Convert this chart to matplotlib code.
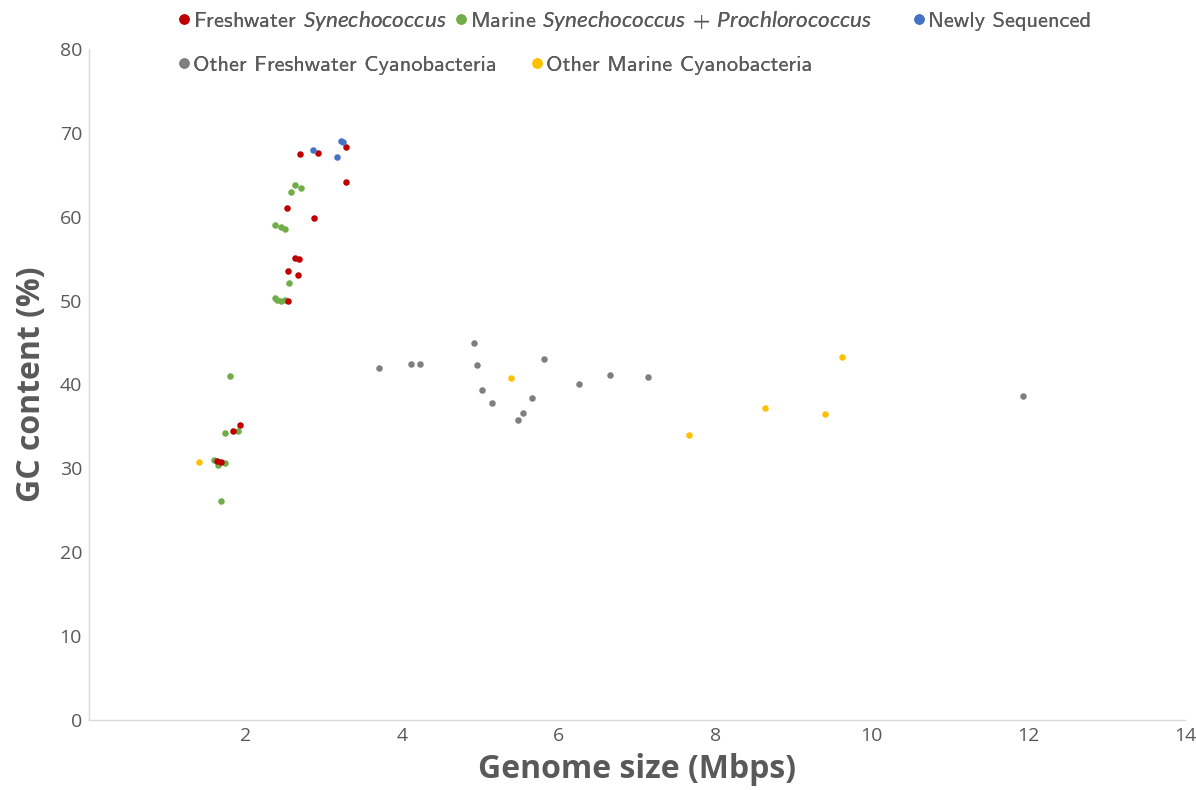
import matplotlib
matplotlib.use("Agg")
import matplotlib.pyplot as plt
from matplotlib.lines import Line2D

plt.rcParams['mathtext.fontset'] = 'custom'
plt.rcParams['mathtext.rm'] = 'cmss10'
plt.rcParams['mathtext.it'] = 'Lato:italic'
plt.rcParams['font.family'] = ['cmss10', 'DejaVu Sans']
plt.rcParams['axes.unicode_minus'] = False

# ---- data ----
fresh_syn_x = [3.28, 2.69, 2.92, 3.28, 2.53, 2.87, 2.63, 2.68, 2.54, 2.67, 2.54, 1.93, 1.84, 1.64, 1.69]
fresh_syn_y = [68.3, 67.5, 67.6, 64.1, 61.0, 59.9, 55.1, 55.0, 53.5, 53.1, 49.9, 35.2, 34.4, 30.9, 30.8]

marine_x = [2.63, 2.71, 2.58, 2.38, 2.45, 2.51, 2.55, 2.37, 2.40, 2.45, 2.51, 1.80, 1.90, 1.74, 1.60, 1.74, 1.65, 1.69]
marine_y = [63.8, 63.4, 63.0, 59.0, 58.8, 58.5, 52.1, 50.3, 50.1, 49.95, 50.1, 41.0, 34.4, 34.2, 31.0, 30.7, 30.4, 26.1]

new_x = [3.22, 3.25, 2.86, 3.17]
new_y = [69.0, 68.9, 67.9, 67.1]

other_fresh_x = [3.71, 4.11, 4.23, 4.92, 4.95, 5.02, 5.15, 5.48, 5.54, 5.66, 5.81, 6.26, 6.65, 7.14, 11.93]
other_fresh_y = [42.0, 42.5, 42.5, 44.9, 42.3, 39.3, 37.8, 35.8, 36.6, 38.4, 43.0, 40.0, 41.1, 40.9, 38.6]

other_marine_x = [1.40, 5.39, 7.66, 8.64, 9.40, 9.62]
other_marine_y = [30.8, 40.8, 34.0, 37.2, 36.5, 43.3]

x_ticks = [2, 4, 6, 8, 10, 12, 14]
y_ticks = [0, 10, 20, 30, 40, 50, 60, 70, 80]

C_RED = '#C00000'
C_GREEN = '#70AD47'
C_BLUE = '#4472C4'
C_GRAY = '#7F7F7F'
C_YELLOW = '#FFC000'
TXT = '#595959'

W, H = 1196, 790
fig = plt.figure(figsize=(W/100, H/100), dpi=100)
ax = fig.add_axes([89/W, 1-720/H, (1185-89)/W, (720-49)/H])

s = 22
ax.scatter(other_fresh_x, other_fresh_y, s=s, color=C_GRAY, linewidths=0, zorder=3)
ax.scatter(other_marine_x, other_marine_y, s=s, color=C_YELLOW, linewidths=0, zorder=3)
ax.scatter(marine_x, marine_y, s=s, color=C_GREEN, linewidths=0, zorder=4)
ax.scatter(fresh_syn_x, fresh_syn_y, s=s, color=C_RED, linewidths=0, zorder=5)
ax.scatter(new_x, new_y, s=s, color=C_BLUE, linewidths=0, zorder=6)

ax.set_xlim(0, 14)
ax.set_ylim(0, 80)
ax.set_xticks(x_ticks)
ax.set_yticks(y_ticks)
ax.tick_params(length=0, labelsize=14, colors=TXT)
ax.tick_params(axis='x', pad=5)
ax.tick_params(axis='y', pad=5)
for lab in ax.get_xticklabels() + ax.get_yticklabels():
    lab.set_fontfamily('Open Sans')
for sp in ['top', 'right']:
    ax.spines[sp].set_visible(False)
for sp in ['left', 'bottom']:
    ax.spines[sp].set_color('#D9D9D9')
    ax.spines[sp].set_linewidth(1.0)

ax.set_xlabel('Genome size (Mbps)', fontsize=23, fontweight='bold', color=TXT,
              fontfamily='Open Sans', labelpad=6)
ax.set_ylabel('GC content (%)', fontsize=23, fontweight='bold', color=TXT,
              fontfamily='Open Sans', labelpad=8)

def h(c):
    return Line2D([], [], marker='o', linestyle='', markersize=7.5, markerfacecolor=c, markeredgewidth=0)

entries = [
    (C_RED, 'Freshwater $\\mathit{Synechococcus}$', 175, 21),
    (C_GREEN, 'Marine $\\mathit{Synechococcus}$ + $\\mathit{Prochlorococcus}$', 452, 21),
    (C_BLUE, 'Newly Sequenced', 910, 21),
    (C_GRAY, 'Other Freshwater Cyanobacteria', 175, 65),
    (C_YELLOW, 'Other Marine Cyanobacteria', 528, 65),
]
for c, lab, px, py in entries:
    lg = fig.legend([h(c)], [lab], loc='center left', bbox_to_anchor=(px/W, 1-py/H),
                    frameon=False, fontsize=16.2, handletextpad=0.0, labelcolor=TXT,
                    borderpad=0, borderaxespad=0, handlelength=0.8)
    fig.add_artist(lg)

fig.savefig('out.png', dpi=100, facecolor='white')
